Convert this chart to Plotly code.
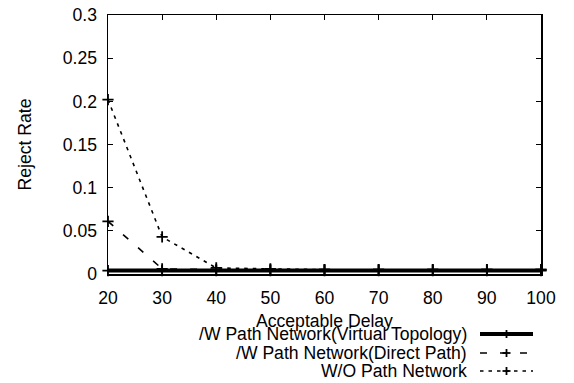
import plotly.graph_objects as go

delays = [20, 30, 40, 50, 60, 70, 80, 90, 100]
virtual_topology = [0.004, 0.004, 0.004, 0.004, 0.004, 0.004, 0.004, 0.004, 0.004]
direct_path = [0.061, 0.006, 0.005, 0.005, 0.005, 0.005, 0.005, 0.005, 0.005]
without_path = [0.202, 0.043, 0.007, 0.006, 0.005, 0.005, 0.005, 0.005, 0.005]
series_names = ["/W Path Network(Virtual Topology)", "/W Path Network(Direct Path)", "W/O Path Network"]
x_ticks = [20, 30, 40, 50, 60, 70, 80, 90, 100]
y_ticks = [0, 0.05, 0.1, 0.15, 0.2, 0.25, 0.3]
y_tick_text = ["0", "0.05", "0.1", "0.15", "0.2", "0.25", "0.3"]

FONT = "Liberation Sans, Arial, Helvetica, sans-serif"
FS = 17.6

W, H = 574, 383
L, R, T, B = 108, 33, 15, 109
pw, ph = W - L - R, H - T - B


def px(x):
    return (x - L) / pw


def py(y):
    return (H - B - y) / ph


styles = [
    dict(width=4, dash="solid"),
    dict(width=1.6, dash="7px,13px"),
    dict(width=1.6, dash="3.5px,5px"),
]

fig = go.Figure()
order = [1, 2, 0]
all_vals = [virtual_topology, direct_path, without_path]
for i in order:
    st = styles[i]
    fig.add_trace(go.Scatter(
        x=delays, y=all_vals[i], name=series_names[i], mode="lines+markers",
        line=dict(color="black", width=st["width"], dash=st["dash"]),
        marker=dict(symbol="cross-thin", size=8, line=dict(color="black", width=1.8)),
        showlegend=False, cliponaxis=False,
    ))

axis_common = dict(
    showline=True, linecolor="black", linewidth=1.5, mirror="allticks",
    ticks="inside", ticklen=5, tickwidth=1.2, tickcolor="black",
    showgrid=False, zeroline=False,
    tickfont=dict(family=FONT, size=FS, color="black"),
)
fig.update_xaxes(range=[20, 100], tickvals=x_ticks, ticklabelstandoff=7, **axis_common)
fig.update_yaxes(range=[0, 0.3], tickvals=y_ticks, ticktext=y_tick_text, ticklabelstandoff=6, **axis_common)

anns = []
anns.append(dict(text="Acceptable Delay", x=0.5, y=py(321), xref="paper", yref="paper",
                 showarrow=False, xanchor="center", yanchor="middle",
                 font=dict(family=FONT, size=FS, color="black")))
anns.append(dict(text="Reject Rate", x=px(24), y=0.5, xref="paper", yref="paper", textangle=-90,
                 showarrow=False, xanchor="center", yanchor="middle",
                 font=dict(family=FONT, size=FS, color="black")))
row_y = [334, 353, 371]
for name, yy in zip(series_names, row_y):
    anns.append(dict(text=name, x=px(469), y=py(yy), xref="paper", yref="paper",
                     showarrow=False, xanchor="right", yanchor="middle",
                     font=dict(family=FONT, size=FS, color="black")))

shapes = []
for st, yy in zip(styles, row_y):
    shapes.append(dict(type="line", xref="paper", yref="paper", x0=px(480), x1=px(533), y0=py(yy), y1=py(yy),
                       line=dict(color="black", width=st["width"], dash=st["dash"])))
    shapes.append(dict(type="line", xref="paper", yref="paper", x0=px(502.5), x1=px(510.5), y0=py(yy), y1=py(yy),
                       line=dict(color="black", width=1.8)))
    shapes.append(dict(type="line", xref="paper", yref="paper", x0=px(506.5), x1=px(506.5), y0=py(yy - 4), y1=py(yy + 4),
                       line=dict(color="black", width=1.8)))

fig.update_layout(
    width=W, height=H,
    margin=dict(l=L, r=R, t=T, b=B, autoexpand=False),
    paper_bgcolor="white", plot_bgcolor="white",
    annotations=anns, shapes=shapes,
    font=dict(family=FONT, size=FS, color="black"),
    showlegend=False,
)
fig.write_html("out.html", config={"displayModeBar": False, "staticPlot": True},
               post_script="document.body.style.margin='0';document.body.style.overflow='hidden';")
